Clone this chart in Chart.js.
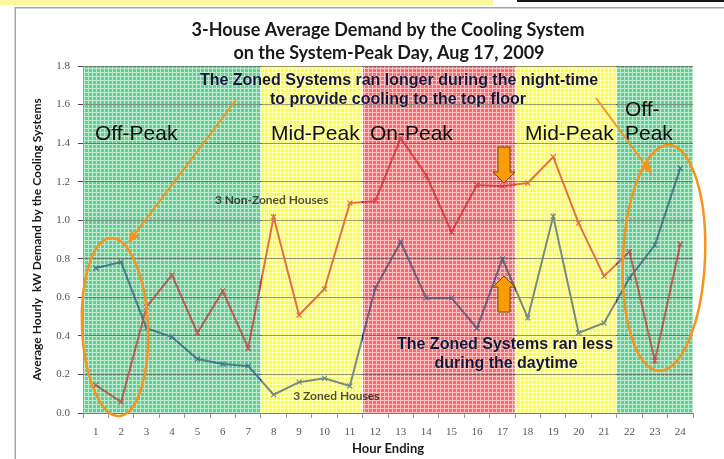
<!DOCTYPE html>
<html>
<head>
<meta charset="utf-8">
<script src="https://cdn.jsdelivr.net/npm/chart.js@4.4.1/dist/chart.umd.min.js"></script>
<style>
  html, body { margin: 0; padding: 0; background: #fff; }
  #chart { display: block; }
</style>
</head>
<body>
<canvas id="chart" width="724" height="459"></canvas>
<script>
// --- Data ---
const hours = ['1', '2', '3', '4', '5', '6', '7', '8', '9', '10', '11', '12',
  '13', '14', '15', '16', '17', '18', '19', '20', '21', '22', '23', '24'];

// 3 Non-Zoned Houses, kW
const nonZoned = [0.145, 0.057, 0.55, 0.716, 0.415, 0.633, 0.337, 1.017, 0.508, 0.643, 1.089, 1.10,
  1.426, 1.234, 0.939, 1.183, 1.177, 1.193, 1.328, 0.985, 0.71, 0.837, 0.27, 0.877];

// 3 Zoned Houses, kW
const zoned = [0.752, 0.783, 0.44, 0.394, 0.28, 0.254, 0.244, 0.095, 0.16, 0.18, 0.14, 0.648,
  0.887, 0.597, 0.597, 0.44, 0.799, 0.493, 1.02, 0.415, 0.467, 0.70, 0.871, 1.27];

const yTickLabels = ['0.0', '0.2', '0.4', '0.6', '0.8', '1.0', '1.2', '1.4', '1.6', '1.8'];

// rate periods (first / last hour ending)
const periodNames = ['Off-Peak', 'Mid-Peak', 'On-Peak', 'Mid-Peak', 'Off-Peak'];
const periodStart = [1, 8, 12, 18, 22];
const periodEnd = [7, 11, 17, 21, 24];
const periodKind = ['off', 'mid', 'on', 'mid', 'off'];

// --- Styles ---
const bandColors = {
  off: ['#62cf92', '#bdebcf'],
  mid: ['#ffff38', '#ffffb8'],
  on: ['#ff6868', '#ffc2c2']
};
const nonZonedColor = 'rgb(200, 0, 10)';
const zonedColor = 'rgb(10, 50, 110)';
const orange = '#f7941d';

const patterns = {};
function getPattern(ctx, kind) {
  if (patterns[kind]) return patterns[kind];
  const c = document.createElement('canvas');
  c.width = 4; c.height = 4;
  const g = c.getContext('2d');
  g.fillStyle = bandColors[kind][0];
  g.fillRect(0, 0, 4, 4);
  g.fillStyle = bandColors[kind][1];
  g.fillRect(0, 0, 4, 1);
  g.fillRect(0, 0, 1, 4);
  patterns[kind] = ctx.createPattern(c, 'repeat');
  return patterns[kind];
}

// draws the coloured rate-period bands over the plot area
function drawBands(chart, alpha) {
  const { ctx, chartArea: a, scales: { x } } = chart;
  ctx.save();
  ctx.globalAlpha = alpha;
  periodStart.forEach((s, i) => {
    let x0 = x.getPixelForValue(s - 1.5);
    let x1 = x.getPixelForValue(periodEnd[i] - 0.5);
    if (i > 0) x0 += 0.5;
    if (i < periodStart.length - 1) x1 -= 0.5;
    ctx.fillStyle = getPattern(ctx, periodKind[i]);
    ctx.fillRect(x0, a.top, x1 - x0, a.bottom - a.top);
  });
  ctx.restore();
}

function arrowLine(ctx, x0, y0, x1, y1) {
  const ang = Math.atan2(y1 - y0, x1 - x0);
  const len = 12, w = 5;
  ctx.beginPath();
  ctx.moveTo(x0, y0);
  ctx.lineTo(x1 - Math.cos(ang) * len * 0.8, y1 - Math.sin(ang) * len * 0.8);
  ctx.stroke();
  ctx.beginPath();
  ctx.moveTo(x1, y1);
  ctx.lineTo(x1 - Math.cos(ang) * len + Math.sin(ang) * w, y1 - Math.sin(ang) * len - Math.cos(ang) * w);
  ctx.lineTo(x1 - Math.cos(ang) * len - Math.sin(ang) * w, y1 - Math.sin(ang) * len + Math.cos(ang) * w);
  ctx.closePath();
  ctx.fill();
}

// block arrow pointing down (dir = 1) or up (dir = -1), tip at (cx, tipY)
function blockArrow(ctx, cx, tipY, dir) {
  const headH = 11, headW = 11, shaftW = 6, shaftH = 25;
  ctx.beginPath();
  ctx.moveTo(cx, tipY);
  ctx.lineTo(cx + headW, tipY - dir * headH);
  ctx.lineTo(cx + shaftW, tipY - dir * headH);
  ctx.lineTo(cx + shaftW, tipY - dir * (headH + shaftH));
  ctx.lineTo(cx - shaftW, tipY - dir * (headH + shaftH));
  ctx.lineTo(cx - shaftW, tipY - dir * headH);
  ctx.lineTo(cx - headW, tipY - dir * headH);
  ctx.closePath();
  ctx.fillStyle = '#fa9c08';
  ctx.fill();
  ctx.strokeStyle = '#7a4e00';
  ctx.lineWidth = 1;
  ctx.stroke();
}

const bandsPlugin = {
  id: 'bands',
  beforeDraw(chart) {
    const { ctx } = chart;
    // slide bits around the chart
    ctx.save();
    ctx.fillStyle = '#fdf79c';
    ctx.fillRect(0, 0, 493, 5);
    ctx.fillStyle = '#151515';
    ctx.fillRect(517, 0, 207, 2);
    ctx.fillStyle = '#a5a5a5';
    ctx.fillRect(15, 7, 709, 1.5);
    ctx.fillRect(14.5, 7, 1.5, 452);
    ctx.restore();
    drawBands(chart, 1);
  },
  afterDatasetsDraw(chart) {
    const { ctx, scales: { x, y } } = chart;
    // the bands are see-through on top of the lines
    drawBands(chart, 0.45);
    // series labels, tinted by the bands
    ctx.save();
    ctx.font = 'bold 12px Lato';
    ctx.fillStyle = 'rgba(0, 0, 0, 0.68)';
    ctx.textBaseline = 'middle';
    ctx.textAlign = 'left';
    ctx.fillText('3 Non-Zoned Houses', x.getPixelForValue(4.69), y.getPixelForValue(1.105));
    ctx.fillText('3 Zoned Houses', x.getPixelForValue(7.77), y.getPixelForValue(0.088));
    ctx.restore();
  },
  afterDraw(chart) {
    const { ctx } = chart;
    ctx.save();
    // title
    ctx.fillStyle = '#1a1a1a';
    ctx.textAlign = 'center';
    ctx.textBaseline = 'middle';
    ctx.font = 'bold 18px Lato';
    ctx.fillText('3-House Average Demand by the Cooling System', 388, 30);
    ctx.fillText('on the System-Peak Day, Aug 17, 2009', 389, 53);

    // period names
    ctx.font = '21px "Liberation Sans"';
    ctx.textAlign = 'left';
    ctx.fillStyle = '#111';
    ctx.fillText(periodNames[0], 95, 134);
    ctx.fillText(periodNames[1], 271, 134);
    ctx.fillText(periodNames[2], 370, 134);
    ctx.fillText(periodNames[3], 525, 134);
    ctx.fillText('Off-', 625, 110);
    ctx.fillText('Peak', 625, 134);

    // ellipses and pointers
    ctx.strokeStyle = orange;
    ctx.fillStyle = orange;
    ctx.lineWidth = 2.5;
    ctx.beginPath();
    ctx.ellipse(115, 327, 33, 89, -0.045, 0, Math.PI * 2);
    ctx.stroke();
    ctx.beginPath();
    ctx.ellipse(664, 258, 41, 113, 0.045, 0, Math.PI * 2);
    ctx.stroke();
    ctx.lineWidth = 2;
    arrowLine(ctx, 236, 100, 128, 243);
    arrowLine(ctx, 596, 98, 652, 174);

    blockArrow(ctx, 504, 183, 1);
    blockArrow(ctx, 504, 276, -1);

    // notes
    ctx.font = 'bold 16px "Liberation Sans"';
    ctx.textAlign = 'center';
    ctx.fillStyle = '#16163a';
    ctx.shadowColor = 'rgba(255,255,255,0.6)';
    ctx.shadowBlur = 2;
    ctx.fillText('The Zoned Systems ran longer during the night-time', 399, 81);
    ctx.fillText('to provide cooling to the top floor', 398, 100);
    ctx.fillText('The Zoned Systems ran less', 505, 345);
    ctx.fillText('during the daytime', 506, 364);
    ctx.restore();
  }
};

const canvas = document.getElementById('chart');

new Chart(canvas, {
  type: 'line',
  data: {
    labels: hours,
    datasets: [
      {
        label: '3 Non-Zoned Houses',
        data: nonZoned,
        borderColor: nonZonedColor,
        backgroundColor: nonZonedColor,
        borderWidth: 2,
        pointStyle: 'crossRot',
        pointRadius: 3.5,
        pointBorderWidth: 1.2,
        pointBorderColor: nonZonedColor,
        tension: 0
      },
      {
        label: '3 Zoned Houses',
        data: zoned,
        borderColor: zonedColor,
        backgroundColor: zonedColor,
        borderWidth: 2,
        pointStyle: 'crossRot',
        pointRadius: 3.5,
        pointBorderWidth: 1.2,
        pointBorderColor: zonedColor,
        tension: 0
      }
    ]
  },
  options: {
    responsive: false,
    animation: false,
    devicePixelRatio: 1,
    layout: { padding: { top: 66, right: 31, bottom: 0, left: 0 } },
    plugins: {
      legend: { display: false },
      tooltip: { enabled: false },
      title: { display: false }
    },
    scales: {
      x: {
        offset: true,
        grid: { offset: true, drawOnChartArea: false, tickLength: 5, color: '#9a9a9a' },
        border: { color: '#7a7a7a' },
        ticks: {
          padding: 8, color: '#555', maxRotation: 0, autoSkip: false,
          font: { family: 'Liberation Serif', size: 11 }
        },
        title: {
          display: true, text: 'Hour Ending', color: '#1a1a1a',
          font: { family: 'Lato', weight: 'bold', size: 13 },
          padding: { top: 0, bottom: 2 }
        },
        afterFit: s => { s.height = 46; }
      },
      y: {
        min: 0,
        max: 1.8,
        ticks: {
          stepSize: 0.2, padding: 8, color: '#555',
          font: { family: 'Liberation Serif', size: 11 },
          callback: (v, i) => yTickLabels[i]
        },
        grid: { color: '#4a4a4a', tickLength: 5 },
        border: { color: '#8a8a8a' },
        title: {
          display: true, text: 'Average Hourly  kW Demand by the Cooling Systems', color: '#1a1a1a',
          font: { family: 'Lato', weight: 'bold', size: 12 },
          padding: { top: 30, bottom: 0 }
        },
        afterFit: s => { s.width = 83; }
      }
    }
  },
  plugins: [bandsPlugin]
});
</script>
</body>
</html>
